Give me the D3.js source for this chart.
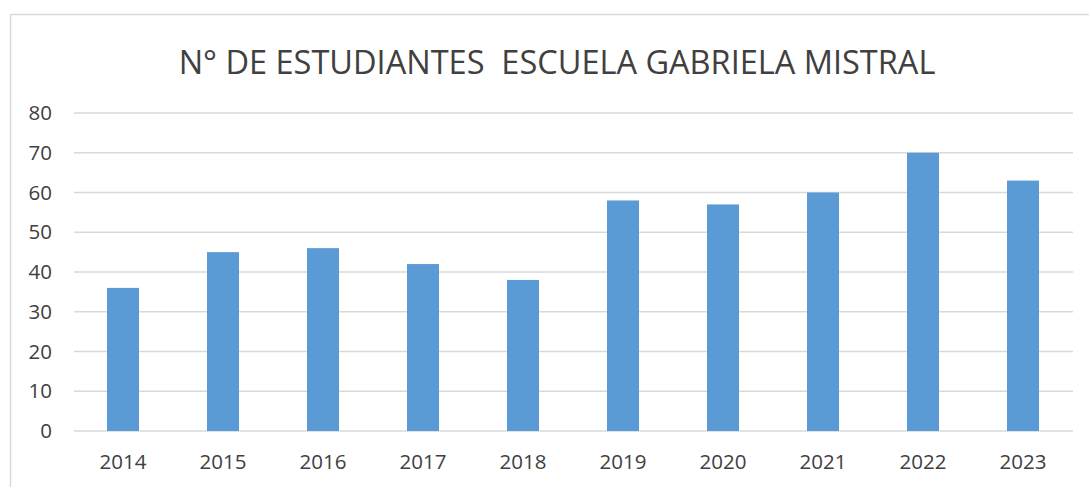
<!DOCTYPE html>
<html>
<head>
<meta charset="utf-8">
<script src="https://cdn.jsdelivr.net/npm/d3@7"></script>
<style>
  body { margin: 0; background: #fff; }
  text { font-family: "Open Sans", "Noto Sans", sans-serif; fill: #404040; }
</style>
</head>
<body>
<script>
var w = 1089, h = 487;
var years = ["2014", "2015", "2016", "2017", "2018", "2019", "2020", "2021", "2022", "2023"];
var students = [36, 45, 46, 42, 38, 58, 57, 60, 70, 63];
var yTicks = [0, 10, 20, 30, 40, 50, 60, 70, 80];
var title = "N° DE ESTUDIANTES  ESCUELA GABRIELA MISTRAL";

var svg = d3.select("body").append("svg")
    .attr("width", w)
    .attr("height", h);

// chart frame
svg.append("rect")
    .attr("x", 10.5).attr("y", 14.5)
    .attr("width", 1090).attr("height", 490)
    .attr("fill", "#fff")
    .attr("stroke", "#d9d9d9")
    .attr("stroke-width", 1.5);

var xScale = d3.scaleBand()
    .domain(years)
    .range([73, 1073])
    .paddingInner(0.68)
    .paddingOuter(0.34);

var yScale = d3.scaleLinear()
    .domain([0, 80])
    .range([431, 113]);

// gridlines
svg.append("g")
    .selectAll("line")
    .data(yTicks)
    .enter()
    .append("line")
    .attr("x1", 74).attr("x2", 1073)
    .attr("y1", function (d) { return yScale(d); })
    .attr("y2", function (d) { return yScale(d); })
    .attr("stroke", "#d9d9d9")
    .attr("stroke-width", 1.5);

svg.append("g")
    .selectAll("rect")
    .data(students)
    .enter()
    .append("rect")
    .attr("x", function (d, i) { return xScale(years[i]); })
    .attr("y", function (d) { return yScale(d); })
    .attr("width", xScale.bandwidth())
    .attr("height", function (d) { return yScale(0) - yScale(d); })
    .attr("fill", "#5b9bd5");

// axes, drawn without domain lines or ticks
var yAxis = d3.axisLeft(yScale).tickValues(yTicks).tickSize(0).tickPadding(0);
var gy = svg.append("g").attr("transform", "translate(52,0)").call(yAxis);
gy.select(".domain").remove();
gy.attr("font-family", null).attr("font-size", 20.5);

var xAxis = d3.axisBottom(xScale).tickSize(0).tickPadding(0);
var gx = svg.append("g").attr("transform", "translate(0,454)").call(xAxis);
gx.select(".domain").remove();
gx.attr("font-family", null).attr("font-size", 20.5);

svg.append("text")
    .attr("x", 557).attr("y", 74)
    .attr("text-anchor", "middle")
    .attr("font-size", 32.5)
    .style("white-space", "pre")
    .text(title);
</script>
</body>
</html>
